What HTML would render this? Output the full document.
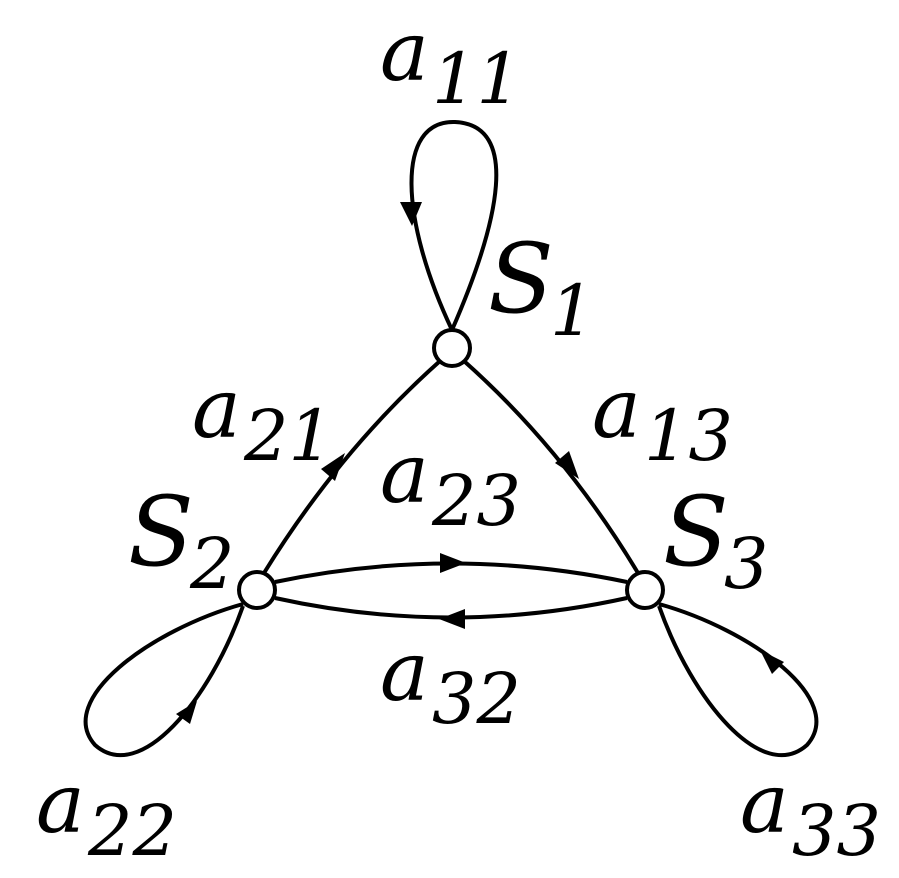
<!DOCTYPE html>
<html><head><style>html,body{margin:0;padding:0;background:#fff;}svg{display:block}</style></head>
<body>
<svg width="899" height="878" viewBox="0 0 899 878" xmlns="http://www.w3.org/2000/svg">
<g fill="none" stroke="#000" stroke-width="4">
<path d="M452,330 C500,220 520,125 455,122 C395,120 400,220 452,330"/>
<path d="M243,604 C150,630 55,700 95,745 C140,785 210,700 243,606"/>
<path d="M659,604 C752,630 847,700 807,745 C762,785 692,700 659,606"/>
<path d="M440,361 Q340,450 264,573"/>
<path d="M464,361 Q564,450 638,573"/>
<path d="M275,582 Q451,545 627,582"/>
<path d="M275,598 Q451,637 627,598"/>
</g>
<g fill="#000">
<polygon points="400,202 422,202 412,226"/>
<polygon points="190,724 176,714 197,701"/>
<polygon points="784,662 772,674 760,650"/>
<polygon points="335,481 321,469 345,453"/>
<polygon points="569,451 555,463 579,479"/>
<polygon points="440,553 440,573 466,563"/>
<polygon points="465,609 465,629 439,619"/>
</g>
<g fill="#fff" stroke="#000" stroke-width="4">
<circle cx="452" cy="348" r="18"/>
<circle cx="257" cy="590" r="18"/>
<circle cx="645" cy="590" r="18"/>
</g>
<g font-family="'DejaVu Serif', serif" font-style="italic" fill="#000">
<text x="380" y="80" font-size="82">a</text><text x="432" y="103" font-size="70">11</text>
<text x="488" y="312" font-size="96">S</text><text x="550" y="335" font-size="70">1</text>
<text x="192" y="437" font-size="82">a</text><text x="244" y="460" font-size="70">21</text>
<text x="592" y="437" font-size="82">a</text><text x="644" y="460" font-size="70">13</text>
<text x="380" y="502" font-size="82">a</text><text x="432" y="525" font-size="70">23</text>
<text x="128" y="565" font-size="96">S</text><text x="190" y="588" font-size="70">2</text>
<text x="663" y="565" font-size="96">S</text><text x="724" y="588" font-size="70">3</text>
<text x="380" y="700" font-size="82">a</text><text x="432" y="723" font-size="70">32</text>
<text x="36" y="832" font-size="82">a</text><text x="88" y="855" font-size="70">22</text>
<text x="740" y="832" font-size="82">a</text><text x="792" y="855" font-size="70">33</text>
</g>
</svg>
</body></html>
